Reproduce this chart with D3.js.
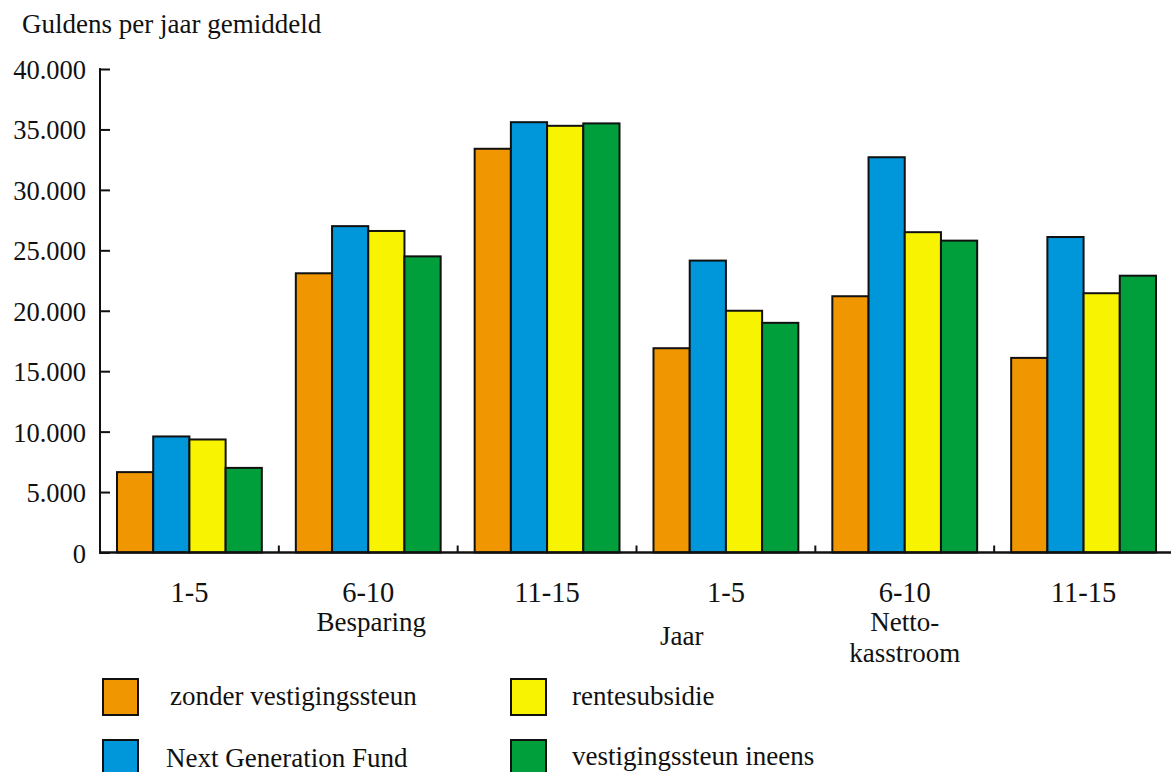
<!DOCTYPE html>
<html>
<head>
<meta charset="utf-8">
<script src="https://cdn.jsdelivr.net/npm/d3@7"></script>
<style>
  html, body { margin: 0; padding: 0; background: #fff; }
  svg { display: block; }
  text { font-family: "Liberation Serif", "Times New Roman", serif; fill: #111; }
</style>
</head>
<body>
<svg id="chart" width="1171" height="772"></svg>
<script>
// Year groups along the x axis (two panels: Besparing and Netto-kasstroom)
const groups = ["b1", "b2", "b3", "n1", "n2", "n3"];
const groupLabels = ["1-5", "6-10", "11-15", "1-5", "6-10", "11-15"];

// Series
const seriesNames = ["zonder vestigingssteun", "Next Generation Fund", "rentesubsidie", "vestigingssteun ineens"];
const seriesColors = ["#EF9600", "#0096DA", "#F8F300", "#009F3C"];

// Values in guldens per year (average), one array per series, in group order
const zonderVestigingssteun = [6650, 23100, 33400, 16900, 21200, 16100];
const nextGenerationFund    = [9600, 27000, 35600, 24150, 32700, 26100];
const rentesubsidie         = [9350, 26600, 35300, 20000, 26500, 21450];
const vestigingssteunIneens = [7000, 24500, 35500, 19000, 25800, 22900];
const seriesValues = [zonderVestigingssteun, nextGenerationFund, rentesubsidie, vestigingssteunIneens];

// Y axis ticks
const yTicks = [0, 5000, 10000, 15000, 20000, 25000, 30000, 35000, 40000];
const yTickLabels = ["0", "5.000", "10.000", "15.000", "20.000", "25.000", "30.000", "35.000", "40.000"];

const svg = d3.select("#chart");

const plotLeft = 100, plotRight = 1173, plotTop = 69, plotBottom = 552.5;

const x0 = d3.scaleBand().domain(groups).range([plotLeft, plotRight]).padding(0);
const step = x0.bandwidth();
const barPad = 17;
const x1 = d3.scaleBand().domain(d3.range(seriesNames.length)).range([barPad, step - barPad]).padding(0);
const y = d3.scaleLinear().domain([0, 40000]).range([plotBottom, plotTop]);

// Title
svg.append("text")
  .attr("x", 22).attr("y", 33)
  .style("font-size", "27px")
  .text("Guldens per jaar gemiddeld");

// Bars
const gBars = svg.append("g");
groups.forEach((g, gi) => {
  seriesValues.forEach((vals, si) => {
    gBars.append("rect")
      .attr("x", x0(g) + x1(si))
      .attr("y", y(vals[gi]))
      .attr("width", x1.bandwidth())
      .attr("height", y(0) - y(vals[gi]))
      .attr("fill", seriesColors[si])
      .attr("stroke", "#111")
      .attr("stroke-width", 2);
  });
});

// Y axis
const yAxis = d3.axisRight(y)
  .tickValues(yTicks)
  .tickSize(10)
  .tickFormat("");
const gy = svg.append("g").attr("transform", `translate(${plotLeft},0)`).call(yAxis);
gy.select(".domain").remove();
gy.selectAll(".tick line").attr("stroke", "#111").attr("stroke-width", 2);
svg.append("line")
  .attr("x1", plotLeft).attr("x2", plotLeft)
  .attr("y1", y(40000) - 1).attr("y2", y(0) + 1)
  .attr("stroke", "#111").attr("stroke-width", 2);

svg.append("g").selectAll("text")
  .data(yTicks)
  .join("text")
  .attr("x", 86)
  .attr("y", d => y(d) + 10)
  .attr("text-anchor", "end")
  .style("font-size", "26.5px")
  .text((d, i) => yTickLabels[i]);

// X axis
svg.append("line")
  .attr("x1", plotLeft - 1).attr("x2", 1171)
  .attr("y1", y(0)).attr("y2", y(0))
  .attr("stroke", "#111").attr("stroke-width", 2.5);

// Separator ticks between groups
svg.append("g").selectAll("line")
  .data(groups.slice(1))
  .join("line")
  .attr("x1", d => x0(d)).attr("x2", d => x0(d))
  .attr("y1", y(0)).attr("y2", y(0) - 7)
  .attr("stroke", "#111").attr("stroke-width", 2);

// Group labels
svg.append("g").selectAll("text")
  .data(groups)
  .join("text")
  .attr("x", d => x0(d) + step / 2)
  .attr("y", 602)
  .attr("text-anchor", "middle")
  .style("font-size", "28.5px")
  .text((d, i) => groupLabels[i]);

// Panel and axis titles
const cx = g => x0(g) + step / 2;
svg.append("text").attr("x", cx("b2") + 3).attr("y", 631).attr("text-anchor", "middle")
  .style("font-size", "27px").text("Besparing");
svg.append("text").attr("x", 660).attr("y", 645)
  .style("font-size", "27px").text("Jaar");
svg.append("text").attr("x", cx("n2")).attr("y", 631).attr("text-anchor", "middle")
  .style("font-size", "27px").text("Netto-");
svg.append("text").attr("x", cx("n2")).attr("y", 662).attr("text-anchor", "middle")
  .style("font-size", "27px").text("kasstroom");

// Legend (2 x 2)
const legendItems = [
  { si: 0, sx: 103, sy: 679, tx: 170, ty: 705 },
  { si: 2, sx: 511, sy: 679, tx: 572, ty: 705 },
  { si: 1, sx: 103, sy: 740, tx: 166, ty: 767 },
  { si: 3, sx: 511, sy: 740, tx: 572, ty: 765 }
];
const gl = svg.append("g");
legendItems.forEach(it => {
  gl.append("rect")
    .attr("x", it.sx).attr("y", it.sy)
    .attr("width", 35).attr("height", 36)
    .attr("fill", seriesColors[it.si])
    .attr("stroke", "#111").attr("stroke-width", 2);
  gl.append("text")
    .attr("x", it.tx).attr("y", it.ty)
    .style("font-size", "27px")
    .text(seriesNames[it.si]);
});
</script>
</body>
</html>
